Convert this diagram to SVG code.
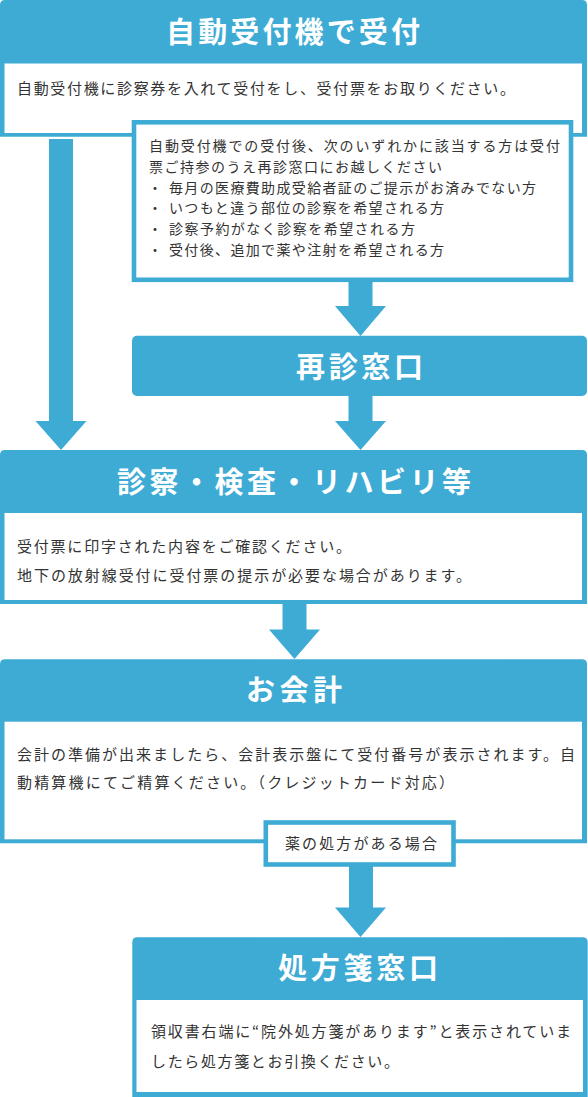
<svg xmlns="http://www.w3.org/2000/svg" width="588" height="1097" viewBox="0 0 588 1097">
<style>
.blue{fill:#3eabd5}
.white{fill:#ffffff}
.frame{fill:#ffffff;stroke:#3eabd5;stroke-width:4.6}
.hd{font-family:"Noto Sans CJK JP","Noto Sans",sans-serif;font-weight:700;font-size:29px;fill:#ffffff}
.bd{font-family:"Noto Sans CJK JP","Noto Sans",sans-serif;font-size:15px;fill:#333333}
.nt{font-family:"Noto Sans CJK JP","Noto Sans",sans-serif;font-size:14px;fill:#333333}
</style>
<rect width="588" height="1097" fill="#ffffff"/>

<g id="connectors">
<path class="blue" d="M49,139 H73 V421 H86.5 L61,450 L35.5,421 H49 Z"/>
<path class="blue" d="M348.5,282 H372.5 V306 H386 L360.5,336 L335,306 H348.5 Z"/>
<path class="blue" d="M348.5,396 H372.5 V421 H386 L360.5,450 L335,421 H348.5 Z"/>
<path class="blue" d="M282.5,604 H306.5 V629.5 H320 L294.5,659 L269,629.5 H282.5 Z"/>
<path class="blue" d="M349,866 H373 V907.5 H386 L360.5,937 L335,907.5 H349 Z"/>
</g>

<g id="node-reception">
<path class="blue" d="M0,5 Q0,0 5,0 H582 Q587,0 587,5 V136.7 H0 Z"/>
<rect class="white" x="4.5" y="63.5" width="577.5" height="69.5"/>
<text class="hd" x="166" y="42.8" textLength="254" lengthAdjust="spacing">自動受付機で受付</text>
<text class="bd" x="17" y="94" textLength="498" lengthAdjust="spacing">自動受付機に診察券を入れて受付をし、受付票をお取りください。</text>
</g>

<g id="node-note">
<rect class="frame" x="134" y="122.3" width="437" height="157.5"/>
<text class="nt" x="149" y="151" textLength="411" lengthAdjust="spacing">自動受付機での受付後、次のいずれかに該当する方は受付</text>
<text class="nt" x="149" y="171.8" textLength="293" lengthAdjust="spacing">票ご持参のうえ再診窓口にお越しください</text>
<text class="nt" x="148" y="192.6">・</text>
<text class="nt" x="169" y="192.6" textLength="367" lengthAdjust="spacing">毎月の医療費助成受給者証のご提示がお済みでない方</text>
<text class="nt" x="148" y="213.4">・</text>
<text class="nt" x="169" y="213.4" textLength="275" lengthAdjust="spacing">いつもと違う部位の診察を希望される方</text>
<text class="nt" x="148" y="234.2">・</text>
<text class="nt" x="169" y="234.2" textLength="246" lengthAdjust="spacing">診察予約がなく診察を希望される方</text>
<text class="nt" x="148" y="255">・</text>
<text class="nt" x="169" y="255" textLength="275" lengthAdjust="spacing">受付後、追加で薬や注射を希望される方</text>
</g>

<g id="node-revisit">
<rect class="blue" x="132" y="335.7" width="455" height="60.3" rx="5"/>
<text class="hd" x="296" y="378.2" textLength="127" lengthAdjust="spacing">再診窓口</text>
</g>

<g id="node-exam">
<path class="blue" d="M0,455 Q0,450 5,450 H582 Q587,450 587,455 V604 H0 Z"/>
<rect class="white" x="4.5" y="513" width="577.5" height="87"/>
<text class="hd" x="117" y="492.6" textLength="354" lengthAdjust="spacing">診察・検査・リハビリ等</text>
<text class="bd" x="17" y="552.4" textLength="334" lengthAdjust="spacing">受付票に印字された内容をご確認ください。</text>
<text class="bd" x="17" y="580.7" textLength="454" lengthAdjust="spacing">地下の放射線受付に受付票の提示が必要な場合があります。</text>
</g>

<g id="node-payment">
<path class="blue" d="M0,664.3 Q0,659.3 5,659.3 H582 Q587,659.3 587,664.3 V843.3 H0 Z"/>
<rect class="white" x="4.5" y="721.7" width="577.5" height="117.6"/>
<text class="hd" x="246" y="701.1" textLength="96" lengthAdjust="spacing">お会計</text>
<text class="bd" x="17" y="759.7" textLength="558" lengthAdjust="spacing">会計の準備が出来ましたら、会計表示盤にて受付番号が表示されます。自</text>
<text class="bd" x="17" y="787.7" textLength="437" lengthAdjust="spacing">動精算機にてご精算ください。（クレジットカード対応）</text>
</g>

<g id="label-prescription">
<rect class="frame" x="265.8" y="822.5" width="187.7" height="42"/>
<text class="bd" x="285" y="848.7" textLength="152" lengthAdjust="spacing">薬の処方がある場合</text>
</g>

<g id="node-pharmacy">
<path class="blue" d="M132.3,942.3 Q132.3,937.3 137.3,937.3 H582.7 Q587.7,937.3 587.7,942.3 V1097 H132.3 Z"/>
<rect class="white" x="136.5" y="1000" width="446.5" height="92"/>
<text class="hd" x="278" y="979.1" textLength="160" lengthAdjust="spacing">処方箋窓口</text>
<text class="bd" x="151" y="1037.4" textLength="420" lengthAdjust="spacing">領収書右端に“院外処方箋があります”と表示されていま</text>
<text class="bd" x="151" y="1067.4" textLength="248" lengthAdjust="spacing">したら処方箋とお引換ください。</text>
</g>
</svg>
